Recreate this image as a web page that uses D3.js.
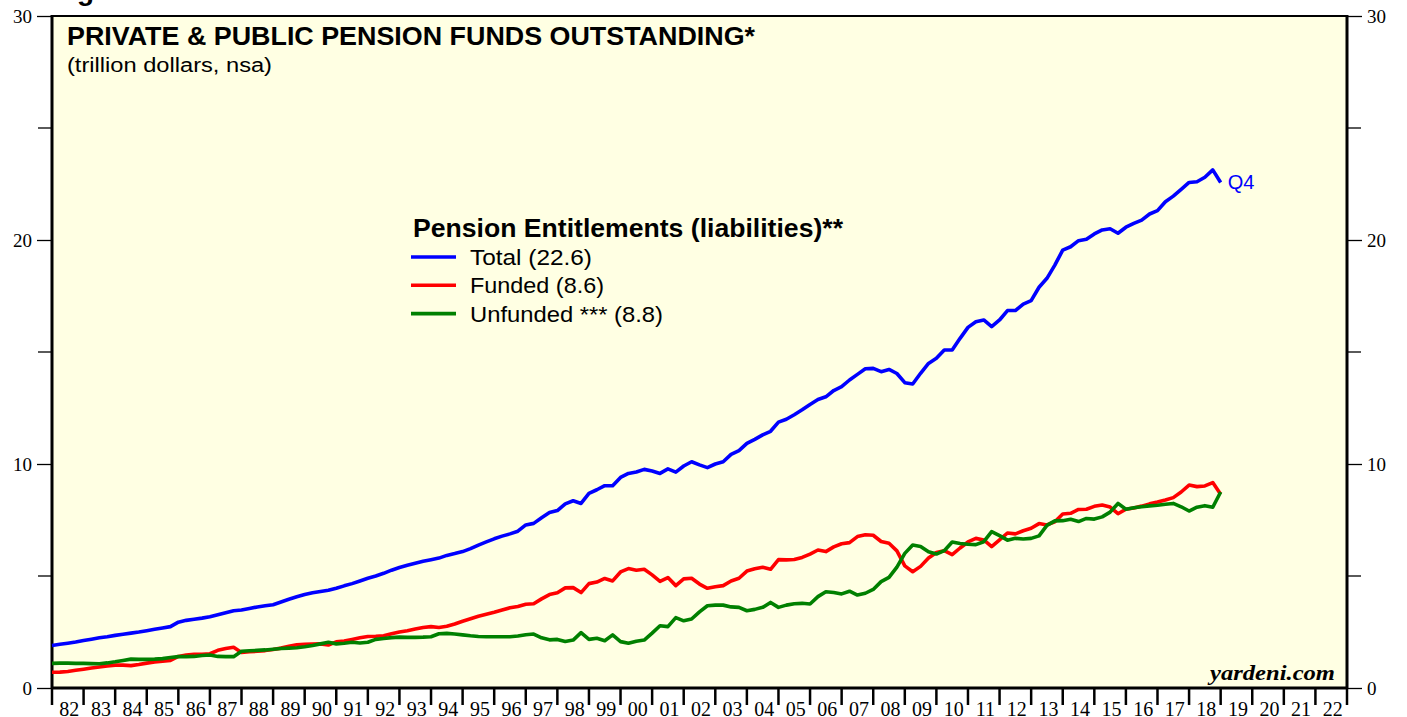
<!DOCTYPE html>
<html>
<head>
<meta charset="utf-8">
<script src="https://cdn.jsdelivr.net/npm/d3@7"></script>
<style>
  html, body { margin: 0; padding: 0; background: #fff; }
  svg { display: block; }
  .sans { font-family: "Liberation Sans", Arial, sans-serif; }
  .serif { font-family: "Liberation Serif", "Times New Roman", serif; }
</style>
</head>
<body>
<div class="chart"></div>
<script>
const WIDTH = 1407;
const HEIGHT = 717;
const LEFT = 52, RIGHT = 1347, TOP = 16, BOTTOM = 688;

// quarterly observations, 1981 Q4 .. 2018 Q4 (one row = one year of quarters)
const START_YEAR = 1982;
const totalValues = [
  1.90, 1.95, 2.00, 2.05,   2.12, 2.18, 2.24, 2.29,   2.35, 2.40, 2.45, 2.50,
  2.56, 2.62, 2.68, 2.74,   2.94, 3.02, 3.07, 3.12,   3.18, 3.27, 3.36, 3.45,
  3.48, 3.55, 3.62, 3.67,   3.72, 3.84, 3.96, 4.07,   4.17, 4.25, 4.31, 4.36,
  4.45, 4.56, 4.66, 4.78,   4.90, 5.00, 5.12, 5.26,   5.38, 5.48, 5.57, 5.66,
  5.73, 5.80, 5.92, 6.00,   6.09, 6.22, 6.38, 6.52,   6.66, 6.78, 6.88, 7.00,
  7.28, 7.35, 7.60, 7.83,   7.92, 8.22, 8.36, 8.24,   8.69, 8.85, 9.03, 9.03,
  9.40, 9.58, 9.64, 9.76,   9.69, 9.58, 9.78, 9.64,   9.91, 10.10, 9.96, 9.84,
  10.00, 10.10, 10.43, 10.60, 10.92, 11.10, 11.30, 11.46, 11.87, 12.00, 12.20, 12.42,
  12.66, 12.88, 13.00, 13.28, 13.45, 13.75, 14.00, 14.25, 14.27, 14.12, 14.22, 14.04,
  13.63, 13.57, 14.05, 14.49, 14.72, 15.09, 15.09, 15.61, 16.10, 16.35, 16.43, 16.13,
  16.43, 16.85, 16.85, 17.14, 17.29, 17.89, 18.29, 18.88, 19.55, 19.70, 19.97, 20.03,
  20.27, 20.45, 20.50, 20.30, 20.57, 20.74, 20.89, 21.16, 21.31, 21.71, 21.96, 22.26,
  22.57, 22.60, 22.80, 23.13,
  22.57
];
const fundedValues = [
  0.70, 0.71, 0.74, 0.79,   0.84, 0.89, 0.94, 0.98,   1.02, 1.02, 1.00, 1.05,
  1.11, 1.16, 1.20, 1.23,   1.41, 1.47, 1.50, 1.51,   1.53, 1.68, 1.76, 1.82,
  1.59, 1.62, 1.64, 1.67,   1.72, 1.78, 1.86, 1.93,   1.95, 1.96, 1.97, 1.92,
  2.06, 2.10, 2.17, 2.24,   2.30, 2.31, 2.33, 2.42,   2.50, 2.56, 2.63, 2.70,
  2.74, 2.70, 2.76, 2.86,   2.98, 3.09, 3.20, 3.29,   3.38, 3.48, 3.58, 3.64,
  3.74, 3.76, 3.98, 4.17,   4.25, 4.47, 4.48, 4.26,   4.66, 4.73, 4.89, 4.78,
  5.18, 5.33, 5.26, 5.30,   5.05, 4.76, 4.93, 4.57,   4.87, 4.90, 4.64, 4.45,
  4.52, 4.57, 4.78, 4.90,   5.22, 5.32, 5.39, 5.30,   5.73, 5.72, 5.74, 5.83,
  5.98, 6.16, 6.09, 6.30,   6.44, 6.49, 6.76, 6.84,   6.82, 6.54, 6.46, 6.12,
  5.45, 5.19, 5.43, 5.80,   6.05, 6.13, 5.95, 6.25,   6.52, 6.68, 6.61, 6.31,
  6.61, 6.92, 6.88, 7.02,   7.13, 7.34, 7.28, 7.42,   7.77, 7.80, 7.97, 7.98,
  8.11, 8.17, 8.08, 7.78,   7.98, 8.04, 8.12, 8.22,   8.30, 8.39, 8.50, 8.75,
  9.06, 8.99, 9.02, 9.17,
  8.65
];
const unfundedValues = [
  1.10, 1.11, 1.11, 1.10,   1.10, 1.09, 1.08, 1.12,   1.17, 1.23, 1.29, 1.28,
  1.28, 1.29, 1.31, 1.36,   1.40, 1.40, 1.41, 1.45,   1.47, 1.41, 1.40, 1.40,
  1.64, 1.66, 1.68, 1.70,   1.73, 1.76, 1.78, 1.80,   1.84, 1.90, 1.97, 2.04,
  1.97, 2.00, 2.04, 2.01,   2.04, 2.17, 2.21, 2.25,   2.27, 2.26, 2.26, 2.27,
  2.29, 2.42, 2.44, 2.41,   2.37, 2.33, 2.30, 2.29,   2.29, 2.29, 2.29, 2.32,
  2.38, 2.41, 2.24, 2.15,   2.17, 2.08, 2.14, 2.47,   2.17, 2.22, 2.11, 2.37,
  2.07, 2.00, 2.09, 2.14,   2.45, 2.78, 2.74, 3.14,   3.00, 3.08, 3.40, 3.67,
  3.70, 3.70, 3.62, 3.60,   3.45, 3.51, 3.60, 3.82,   3.60, 3.70, 3.76, 3.78,
  3.75, 4.08, 4.30, 4.26,   4.20, 4.32, 4.15, 4.23,   4.40, 4.75, 4.94, 5.40,
  6.01, 6.38, 6.32, 6.08,   5.98, 6.13, 6.52, 6.45,   6.42, 6.40, 6.53, 6.98,
  6.80, 6.60, 6.68, 6.65,   6.68, 6.79, 7.26, 7.46,   7.47, 7.53, 7.43, 7.57,
  7.54, 7.64, 7.85, 8.24,   7.98, 8.05, 8.09, 8.13,   8.16, 8.20, 8.24, 8.09,
  7.90, 8.07, 8.14, 8.07,
  8.75
];

const yearLabels = ['82','83','84','85','86','87','88','89','90','91','92','93','94','95',
  '96','97','98','99','00','01','02','03','04','05','06','07','08','09','10','11','12',
  '13','14','15','16','17','18','19','20','21','22'];
const yTicks = [0, 10, 20, 30];
const yMinorTicks = [5, 15, 25];

const seriesNames = ['Total (22.6)', 'Funded (8.6)', 'Unfunded *** (8.8)'];
const seriesColors = ['#0000ff', '#ff0000', '#008000'];
const seriesValues = [totalValues, fundedValues, unfundedValues];
const legendTextWidths = [122, 134, 193];

const xScale = d3.scaleLinear().domain([START_YEAR, START_YEAR + yearLabels.length]).range([LEFT, RIGHT]);
const yScale = d3.scaleLinear().domain([0, 30]).range([BOTTOM, TOP]);

function setupSvg() {
  return d3.select('.chart').append('svg')
    .attr('width', WIDTH)
    .attr('height', HEIGHT);
}

// stretch text to the width it has in the original
function fitText(sel, width) {
  sel.attr('textLength', width).attr('lengthAdjust', 'spacingAndGlyphs');
}

function drawFrame(svg) {
  // the cut-off figure caption at the very top
  svg.append('text').attr('class', 'sans')
    .attr('x', 52).attr('y', 0)
    .attr('font-size', 28).attr('font-weight', 'bold')
    .text('Figure 3.');

  svg.append('rect')
    .attr('x', LEFT).attr('y', TOP)
    .attr('width', RIGHT - LEFT).attr('height', BOTTOM - TOP)
    .attr('fill', '#ffffe3');
}

function drawAxis(svg) {
  var years = d3.range(yearLabels.length + 1).map(function (i) { return START_YEAR + i; });

  var xAxisG = svg.append('g').attr('transform', 'translate(0,' + BOTTOM + ')');
  xAxisG.selectAll('line').data(years).enter().append('line')
    .attr('x1', function (d) { return xScale(d); })
    .attr('x2', function (d) { return xScale(d); })
    .attr('y1', 0).attr('y2', 17)
    .attr('stroke', '#000').attr('stroke-width', 2.5);
  xAxisG.selectAll('text').data(yearLabels).enter().append('text')
    .attr('class', 'serif')
    .attr('x', function (d, i) { return xScale(START_YEAR + i + 0.5) + 1.5; })
    .attr('y', 28)
    .attr('text-anchor', 'middle')
    .attr('font-size', 20)
    .text(function (d) { return d; });

  var leftAxis = d3.axisLeft(yScale).tickValues(yTicks).tickSize(15).tickPadding(5);
  var rightAxis = d3.axisRight(yScale).tickValues(yTicks).tickSize(15).tickPadding(5);

  var leftG = svg.append('g').attr('transform', 'translate(' + LEFT + ',0)').call(leftAxis);
  var rightG = svg.append('g').attr('transform', 'translate(' + RIGHT + ',0)').call(rightAxis);
  [leftG, rightG].forEach(function (g) {
    g.select('.domain').remove();
    g.selectAll('text').attr('class', 'serif').attr('font-size', 19).attr('fill', '#000');
    g.selectAll('line').attr('stroke', '#000').attr('stroke-width', 1.3);
  });

  svg.append('g').selectAll('line').data(yMinorTicks).enter().append('line')
    .attr('x1', LEFT - 14).attr('x2', LEFT)
    .attr('y1', function (d) { return yScale(d); })
    .attr('y2', function (d) { return yScale(d); })
    .attr('stroke', '#000').attr('stroke-width', 1.3);
  svg.append('g').selectAll('line').data(yMinorTicks).enter().append('line')
    .attr('x1', RIGHT).attr('x2', RIGHT + 14)
    .attr('y1', function (d) { return yScale(d); })
    .attr('y2', function (d) { return yScale(d); })
    .attr('stroke', '#000').attr('stroke-width', 1.3);

  // plot border
  svg.append('line').attr('x1', LEFT).attr('x2', RIGHT).attr('y1', TOP).attr('y2', TOP)
    .attr('stroke', '#000').attr('stroke-width', 2);
  svg.append('line').attr('x1', LEFT - 1).attr('x2', RIGHT + 1).attr('y1', BOTTOM).attr('y2', BOTTOM)
    .attr('stroke', '#000').attr('stroke-width', 3);
  svg.append('line').attr('x1', LEFT).attr('x2', LEFT).attr('y1', TOP - 1).attr('y2', BOTTOM)
    .attr('stroke', '#000').attr('stroke-width', 3);
  svg.append('line').attr('x1', RIGHT).attr('x2', RIGHT).attr('y1', TOP - 1).attr('y2', BOTTOM)
    .attr('stroke', '#000').attr('stroke-width', 3);
}

var line = d3.line()
  .x(function (v, i) { return xScale(START_YEAR + i / 4); })
  .y(function (v) { return yScale(v); });

function drawLines(svg) {
  var g = svg.append('g');
  seriesValues.forEach(function (values, k) {
    g.append('path')
      .attr('d', line(values))
      .attr('fill', 'none')
      .attr('stroke', seriesColors[k])
      .attr('stroke-width', 3.6)
      .attr('stroke-linejoin', 'round');
  });
  var last = totalValues.length - 1;
  g.append('text').attr('class', 'sans')
    .attr('x', xScale(START_YEAR + last / 4) + 7)
    .attr('y', yScale(totalValues[last]) + 7)
    .attr('font-size', 20)
    .attr('fill', '#0000ff')
    .text('Q4');
}

function drawTitles(svg) {
  svg.append('text').attr('class', 'sans')
    .attr('x', 67).attr('y', 45)
    .attr('font-size', 25).attr('font-weight', 'bold')
    .text('PRIVATE & PUBLIC PENSION FUNDS OUTSTANDING*')
    .call(fitText, 688);
  svg.append('text').attr('class', 'sans')
    .attr('x', 67).attr('y', 72)
    .attr('font-size', 20)
    .text('(trillion dollars, nsa)')
    .call(fitText, 205);
  svg.append('text').attr('class', 'serif')
    .attr('x', 1210).attr('y', 680)
    .attr('font-size', 20).attr('font-weight', 'bold').attr('font-style', 'italic')
    .text('yardeni.com')
    .call(fitText, 125);
}

function drawLegend(svg) {
  var g = svg.append('g').attr('transform', 'translate(411,0)');
  g.append('text').attr('class', 'sans')
    .attr('x', 2).attr('y', 237)
    .attr('font-size', 25).attr('font-weight', 'bold')
    .text('Pension Entitlements (liabilities)**')
    .call(fitText, 430);
  var items = g.selectAll('.item').data(seriesNames).enter().append('g')
    .attr('transform', function (d, i) { return 'translate(0,' + (257 + i * 28.3) + ')'; });
  items.append('line')
    .attr('x1', 0).attr('x2', 45).attr('y1', 0).attr('y2', 0)
    .attr('stroke', function (d, i) { return seriesColors[i]; })
    .attr('stroke-width', 3.6);
  items.append('text').attr('class', 'sans')
    .attr('x', 59).attr('y', 8)
    .attr('font-size', 22)
    .attr('textLength', function (d, i) { return legendTextWidths[i]; })
    .attr('lengthAdjust', 'spacingAndGlyphs')
    .text(function (d) { return d; });
}

var svg = setupSvg();
drawFrame(svg);
drawAxis(svg);
drawLines(svg);
drawTitles(svg);
drawLegend(svg);
</script>
</body>
</html>
